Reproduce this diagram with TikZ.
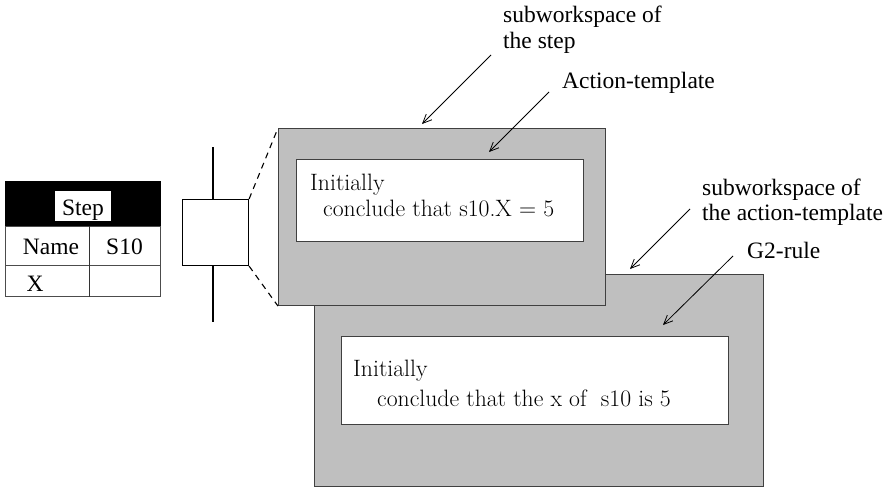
\documentclass[tikz,border=0pt]{standalone}
\usepackage{fontspec}
\newfontfamily\tms{Liberation Serif}
\usetikzlibrary{arrows.meta}
\begin{document}
\begin{tikzpicture}[x=1pt,y=-1pt,
  lbl/.style={inner sep=0pt,anchor=base west,font=\tms\fontsize{23.5}{27}\selectfont},
  tbltxt/.style={inner sep=0pt,anchor=base,font=\tms\fontsize{23.5}{27}\selectfont},
  boxtxt/.style={inner sep=0pt,anchor=base west,font=\fontsize{23.7}{28}\selectfont},
  ws/.style={draw=black!75,line width=1.1pt,fill=black!25,anchor=north west,inner sep=0pt},
  wbox/.style={draw=black!75,line width=1.1pt,fill=white,anchor=north west,inner sep=0pt},
  ptr/.style={line width=0.8pt,-{Straight Barb[length=9pt,width=8pt]}},
  ln/.style={line width=1.1pt}]
\useasboundingbox (0,0) rectangle (889,487);
% table
\node[fill=black,draw=black,anchor=north west,minimum width=155pt,minimum height=45pt,inner sep=0pt] (thead) at (5,181) {};
\node[fill=white,anchor=north west,minimum width=56pt,minimum height=30pt,inner sep=0pt] (tstep) at (55,191) {};
\node[tbltxt] (tsteptxt) at (83,215) {Step};
\node[draw=black!70,line width=1pt,anchor=north west,minimum width=155pt,minimum height=39pt,inner sep=0pt] (trow1) at (5,226) {};
\node[draw=black!70,line width=1pt,anchor=north west,minimum width=155pt,minimum height=31pt,inner sep=0pt] (trow2) at (5,265) {};
\draw[black!80,line width=1pt] (trow1.north west) ++(84,0) coordinate (cdA) -- (trow2.south west -| cdA);
\node[tbltxt] (tname) at (51,254) {Name};
\node[tbltxt] (ts10) at (124.5,254) {S10};
\node[tbltxt] (tx) at (35,291) {X};
% step symbol
\coordinate (vtop) at (213,147);
\coordinate (vbot) at (213,322);
\node[draw,line width=1.1pt,fill=white,anchor=north west,minimum width=66pt,minimum height=66pt,inner sep=0pt] (stepbox) at (182,199) {};
\draw[ln] (vtop) -- (stepbox.north -| vtop);
\draw[ln] (stepbox.south -| vbot) -- (vbot);
% workspace 2 (behind)
\node[ws,minimum width=449pt,minimum height=212pt] (g2) at (314,274) {};
% workspace 1
\node[ws,minimum width=327pt,minimum height=177pt] (g1) at (278,128) {};
\draw[ln,dashed,dash pattern=on 6pt off 5pt] (stepbox.north east) -- (g1.north west);
\draw[ln,dashed,dash pattern=on 6pt off 5pt] (stepbox.south east) -- (g1.south west);
% white boxes
\node[wbox,minimum width=287pt,minimum height=82pt] (w1) at (296,159) {};
\node[boxtxt] (w1a) at (310,190.7) {Initially};
\node[boxtxt] (w1b) at (323,216.7) {conclude that s10.X = 5};
\node[wbox,minimum width=387pt,minimum height=88pt] (w2) at (341,336) {};
\node[boxtxt] (w2a) at (353,376.7) {Initially};
\node[boxtxt] (w2b) at (377,406.7) {conclude that the x of\ \ s10 is 5};
% labels
\node[lbl] (la1) at (503,22.7) {subworkspace of};
\node[lbl] (la2) at (503,48.3) {the step};
\node[lbl] (lb) at (562,88.3) {Action-template};
\node[lbl] (lc1) at (702,195) {subworkspace of};
\node[lbl] (lc2) at (702,220.7) {the action-template};
\node[lbl] (ld) at (747,258.3) {G2-rule};
% pointers
\coordinate (pa0) at (491,55); \coordinate (pa1) at (422,124);
\coordinate (pb0) at (549,92); \coordinate (pb1) at (489,152);
\coordinate (pc0) at (690,209); \coordinate (pc1) at (630,269);
\coordinate (pd0) at (733,256); \coordinate (pd1) at (663,325);
\draw[ptr] (pa0) -- (pa1);
\draw[ptr] (pb0) -- (pb1);
\draw[ptr] (pc0) -- (pc1);
\draw[ptr] (pd0) -- (pd1);
\end{tikzpicture}
\end{document}
